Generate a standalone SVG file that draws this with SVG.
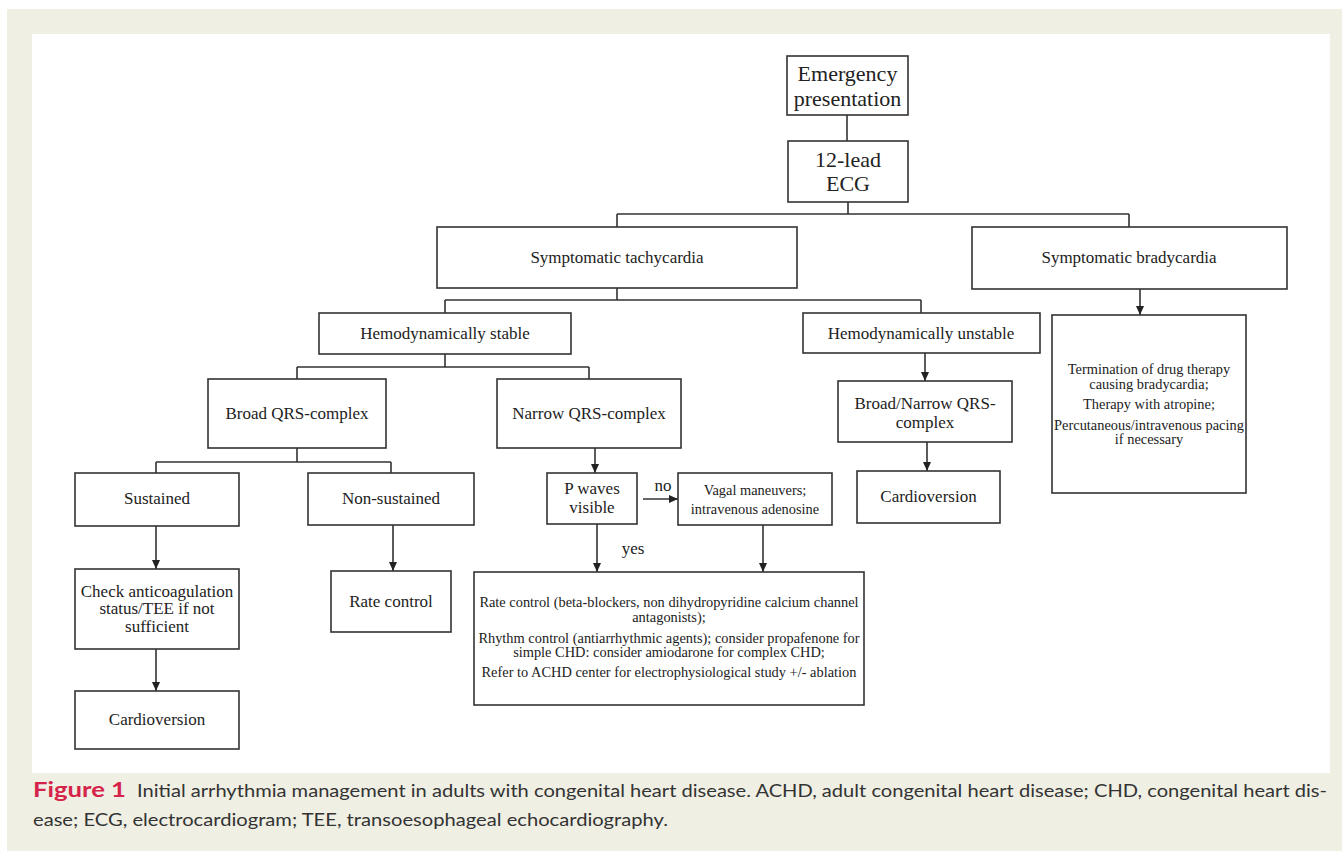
<svg xmlns="http://www.w3.org/2000/svg" width="1342" height="851" viewBox="0 0 1342 851">
<style>
.box{fill:#fff;stroke:#333;stroke-width:1.6}
.t{font-family:"Liberation Serif","Times New Roman",serif;fill:#222;text-anchor:middle}
.big{font-size:22px}
.m{font-size:17px}
.s{font-size:14.4px}
.ln{fill:none;stroke:#333;stroke-width:1.6}
.cap{font-family:Lato,"Open Sans",sans-serif;fill:#333;font-size:18px}
</style>
<defs>
<marker id="ah" markerWidth="10" markerHeight="10" refX="9" refY="5" orient="auto" markerUnits="userSpaceOnUse">
<path d="M0,1 L9,5 L0,9 Z" fill="#222"/>
</marker>
</defs>
<rect x="0" y="0" width="1342" height="851" fill="#fff"/>
<rect x="7" y="9" width="1335" height="842" fill="#EFEFE4"/>
<rect x="32" y="34" width="1298" height="739" fill="#fff"/>

<g id="connectors">
<path class="ln" d="M847,115 V141"/>
<path class="ln" d="M848,202 V214 M617,214 H1129 M617,214 V227 M1129,214 V227"/>
<path class="ln" d="M617,288 V300 M445,300 H921 M445,300 V313 M921,300 V313"/>
<path class="ln" d="M1140,289 V315" marker-end="url(#ah)"/>
<path class="ln" d="M445,354 V367 M297,367 H589 M297,367 V379 M589,367 V379"/>
<path class="ln" d="M297,448 V462 M156,462 H391 M156,462 V473 M391,462 V473"/>
<path class="ln" d="M925,353 V381" marker-end="url(#ah)"/>
<path class="ln" d="M927,442 V471" marker-end="url(#ah)"/>
<path class="ln" d="M595,448 V473" marker-end="url(#ah)"/>
<path class="ln" d="M643,499 H678" marker-end="url(#ah)"/>
<path class="ln" d="M597,524 V572" marker-end="url(#ah)"/>
<path class="ln" d="M763,525 V572" marker-end="url(#ah)"/>
<path class="ln" d="M156,526 V569" marker-end="url(#ah)"/>
<path class="ln" d="M156,649 V691" marker-end="url(#ah)"/>
<path class="ln" d="M393,525 V571" marker-end="url(#ah)"/>
<text class="t m" x="663" y="491">no</text>
<text class="t m" x="633" y="554">yes</text>
</g>

<g id="n-emergency">
<rect class="box" x="787" y="56" width="121" height="59"/>
<text class="t big" x="847.5" y="81">Emergency</text>
<text class="t big" x="847.5" y="106">presentation</text>
</g>
<g id="n-ecg">
<rect class="box" x="788" y="141" width="120" height="61"/>
<text class="t big" x="848" y="167">12-lead</text>
<text class="t big" x="848" y="191">ECG</text>
</g>
<g id="n-tachy">
<rect class="box" x="437" y="227" width="360" height="61"/>
<text class="t m" x="617" y="263">Symptomatic tachycardia</text>
</g>
<g id="n-brady">
<rect class="box" x="972" y="227" width="315" height="62"/>
<text class="t m" x="1129" y="263">Symptomatic bradycardia</text>
</g>
<g id="n-stable">
<rect class="box" x="319" y="313" width="252" height="41"/>
<text class="t m" x="445" y="339">Hemodynamically stable</text>
</g>
<g id="n-unstable">
<rect class="box" x="803" y="313" width="237" height="40"/>
<text class="t m" x="921" y="339">Hemodynamically unstable</text>
</g>
<g id="n-broad">
<rect class="box" x="208" y="379" width="178" height="69"/>
<text class="t m" x="297" y="419">Broad QRS-complex</text>
</g>
<g id="n-narrow">
<rect class="box" x="497" y="379" width="184" height="69"/>
<text class="t m" x="589" y="419">Narrow QRS-complex</text>
</g>
<g id="n-sustained">
<rect class="box" x="75" y="473" width="164" height="53"/>
<text class="t m" x="157" y="504">Sustained</text>
</g>
<g id="n-nonsustained">
<rect class="box" x="308" y="473" width="166" height="52"/>
<text class="t m" x="391" y="504">Non-sustained</text>
</g>
<g id="n-pwaves">
<rect class="box" x="547" y="473" width="90" height="51"/>
<text class="t m" x="592" y="494">P waves</text>
<text class="t m" x="592" y="513">visible</text>
</g>
<g id="n-vagal">
<rect class="box" x="678" y="473" width="154" height="52"/>
<text class="t s" x="755" y="495">Vagal maneuvers;</text>
<text class="t s" x="755" y="514">intravenous adenosine</text>
</g>
<g id="n-broadnarrow">
<rect class="box" x="838" y="381" width="174" height="61"/>
<text class="t m" x="925" y="409">Broad/Narrow QRS-</text>
<text class="t m" x="925" y="428">complex</text>
</g>
<g id="n-cardioversion2">
<rect class="box" x="857" y="471" width="143" height="52"/>
<text class="t m" x="928.5" y="502">Cardioversion</text>
</g>
<g id="n-bradytherapy">
<rect class="box" x="1052" y="315" width="194" height="178"/>
<text class="t s" x="1149" y="374">Termination of drug therapy</text>
<text class="t s" x="1149" y="389">causing bradycardia;</text>
<text class="t s" x="1149" y="409">Therapy with atropine;</text>
<text class="t s" x="1149" y="430">Percutaneous/intravenous pacing</text>
<text class="t s" x="1149" y="444">if necessary</text>
</g>
<g id="n-check">
<rect class="box" x="75" y="569" width="164" height="80"/>
<text class="t m" x="157" y="597">Check anticoagulation</text>
<text class="t m" x="157" y="614">status/TEE if not</text>
<text class="t m" x="157" y="632">sufficient</text>
</g>
<g id="n-cardioversion1">
<rect class="box" x="75" y="691" width="164" height="58"/>
<text class="t m" x="157" y="725">Cardioversion</text>
</g>
<g id="n-ratecontrol">
<rect class="box" x="331" y="571" width="120" height="61"/>
<text class="t m" x="391" y="607">Rate control</text>
</g>
<g id="n-treatment">
<rect class="box" x="474" y="572" width="390" height="133"/>
<text class="t s" x="669" y="607">Rate control (beta-blockers, non dihydropyridine calcium channel</text>
<text class="t s" x="669" y="622">antagonists);</text>
<text class="t s" x="669" y="643">Rhythm control (antiarrhythmic agents); consider propafenone for</text>
<text class="t s" x="669" y="657">simple CHD: consider amiodarone for complex CHD;</text>
<text class="t s" x="669" y="677">Refer to ACHD center for electrophysiological study +/- ablation</text>
</g>

<g id="caption">
<text x="33" y="797" font-family="Lato,'Open Sans',sans-serif" font-weight="bold" font-size="20" fill="#D6234A" textLength="93" lengthAdjust="spacingAndGlyphs">Figure 1</text>
<text class="cap" x="137" y="797" textLength="1190" lengthAdjust="spacingAndGlyphs">Initial arrhythmia management in adults with congenital heart disease. ACHD, adult congenital heart disease; CHD, congenital heart dis-</text>
<text class="cap" x="33" y="826" textLength="635" lengthAdjust="spacingAndGlyphs">ease; ECG, electrocardiogram; TEE, transoesophageal echocardiography.</text>
</g>
</svg>
